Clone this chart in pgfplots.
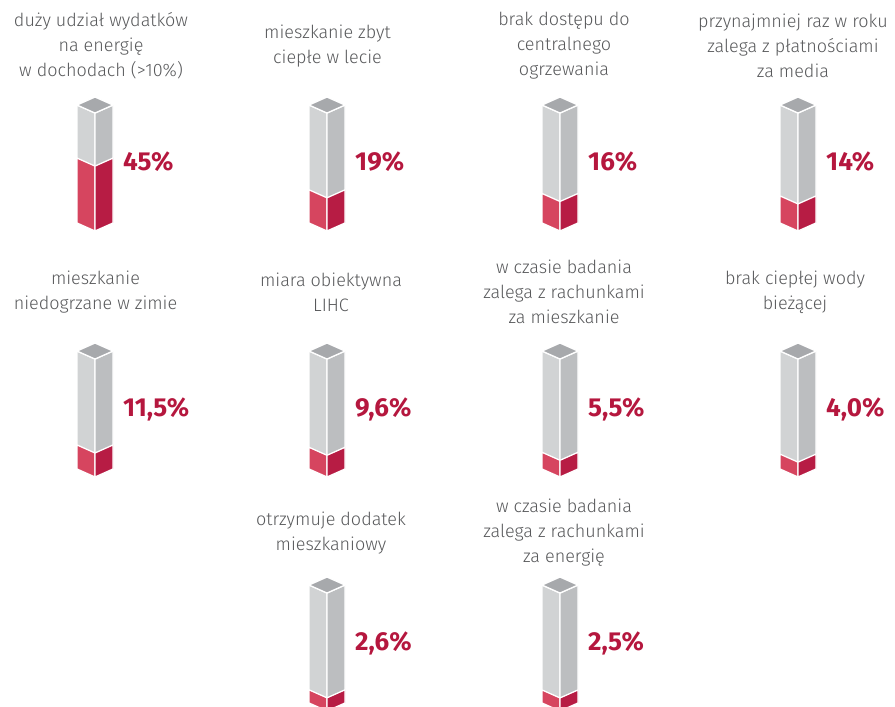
\documentclass[border=0pt]{standalone}
\usepackage{pgfplots}
\pgfplotsset{compat=1.18}
\usepackage{fontspec}
\setmainfont{Fira Sans}
\newfontfamily\titlefont{Fira Sans Light}
\definecolor{capgray}{HTML}{A7A9AC}
\definecolor{lgray}{HTML}{D1D3D4}
\definecolor{rgray}{HTML}{BCBEC0}
\definecolor{lred}{HTML}{D6455F}
\definecolor{rred}{HTML}{B71C44}
\definecolor{valred}{HTML}{B5173E}
\definecolor{txtgray}{HTML}{58595B}
% #1 front x (pt), #2 origin y (pt), #3 value (%), #4 value label, #5 title dx, #6 title dy, #7 title, #8 ymin
\newcommand{\isobar}[8]{%
\pgfmathsetmacro\ax{#1-20}\pgfmathsetmacro\ay{#2+1.22*(#8)}%
\begin{axis}[at={(\ax pt,\ay pt)},anchor=south west,hide axis,x=1pt,y=1.22pt,
  xmin=-20,xmax=20,ymin=#8,ymax=105,clip=true,clip mode=individual]
\pgfmathsetmacro\vs{#3+6.56}
\addplot[fill=lgray,draw=white,line width=1.3pt,line join=round] coordinates {(-18,-1.64) (0,-8.2) (0,88.5) (-18,95.06)} -- cycle;
\addplot[fill=rgray,draw=white,line width=1.3pt,line join=round] coordinates {(18,-1.64) (0,-8.2) (0,88.5) (18,95.06)} -- cycle;
\addplot[fill=lred,draw=white,line width=1.3pt,line join=round] coordinates {(-18,-1.64) (0,-8.2) (0,#3) (-18,\vs)} -- cycle;
\addplot[fill=rred,draw=white,line width=1.3pt,line join=round] coordinates {(18,-1.64) (0,-8.2) (0,#3) (18,\vs)} -- cycle;
\addplot[fill=capgray,draw=white,line width=1.3pt,line join=round] coordinates {(0,88.5) (-18,95.06) (0,101.62) (18,95.06)} -- cycle;
\node[anchor=base west,inner sep=0pt,text=valred,font=\fontsize{26}{30}\selectfont\bfseries] at (axis cs:28,41.5) {#4};
\node[align=center,inner sep=0pt,text=txtgray,font=\titlefont\fontsize{18}{25}\selectfont] at (axis cs:#5,#6) {#7};
\end{axis}}
\begin{document}
\begin{tikzpicture}
\path (0,0) rectangle (895pt,707pt);
\isobar{95}{486}{45}{45\%}{6}{143.4}{duży udział wydatków\\na energię\\w dochodach (>10\%)}{-10}
\isobar{327}{486}{19}{19\%}{0.5}{143.4}{mieszkanie zbyt\\ciepłe w lecie}{-10}
\isobar{560}{486}{16}{16\%}{4}{143.4}{brak dostępu do\\centralnego\\ogrzewania}{-10}
\isobar{798}{486}{14}{14\%}{-5}{143.4}{przynajmniej raz w roku\\zalega z płatnościami\\za media}{-10}
\isobar{95}{240}{11.5}{11,5\%}{0.5}{143.4}{mieszkanie\\niedogrzane w zimie}{-10}
\isobar{327}{240}{9.6}{9,6\%}{4}{143.4}{miara obiektywna\\LIHC}{-10}
\isobar{560}{240}{5.5}{5,5\%}{4}{143.4}{w czasie badania\\zalega z rachunkami\\za mieszkanie}{-10}
\isobar{798}{240}{4.0}{4,0\%}{-3}{143.4}{brak ciepłej wody\\bieżącej}{-10}
\isobar{327}{6}{2.6}{2,6\%}{4}{137.7}{otrzymuje dodatek\\mieszkaniowy}{-4.9}
\isobar{560}{6}{2.5}{2,5\%}{4}{137.7}{w czasie badania\\zalega z rachunkami\\za energię}{-4.9}
\end{tikzpicture}
\end{document}
